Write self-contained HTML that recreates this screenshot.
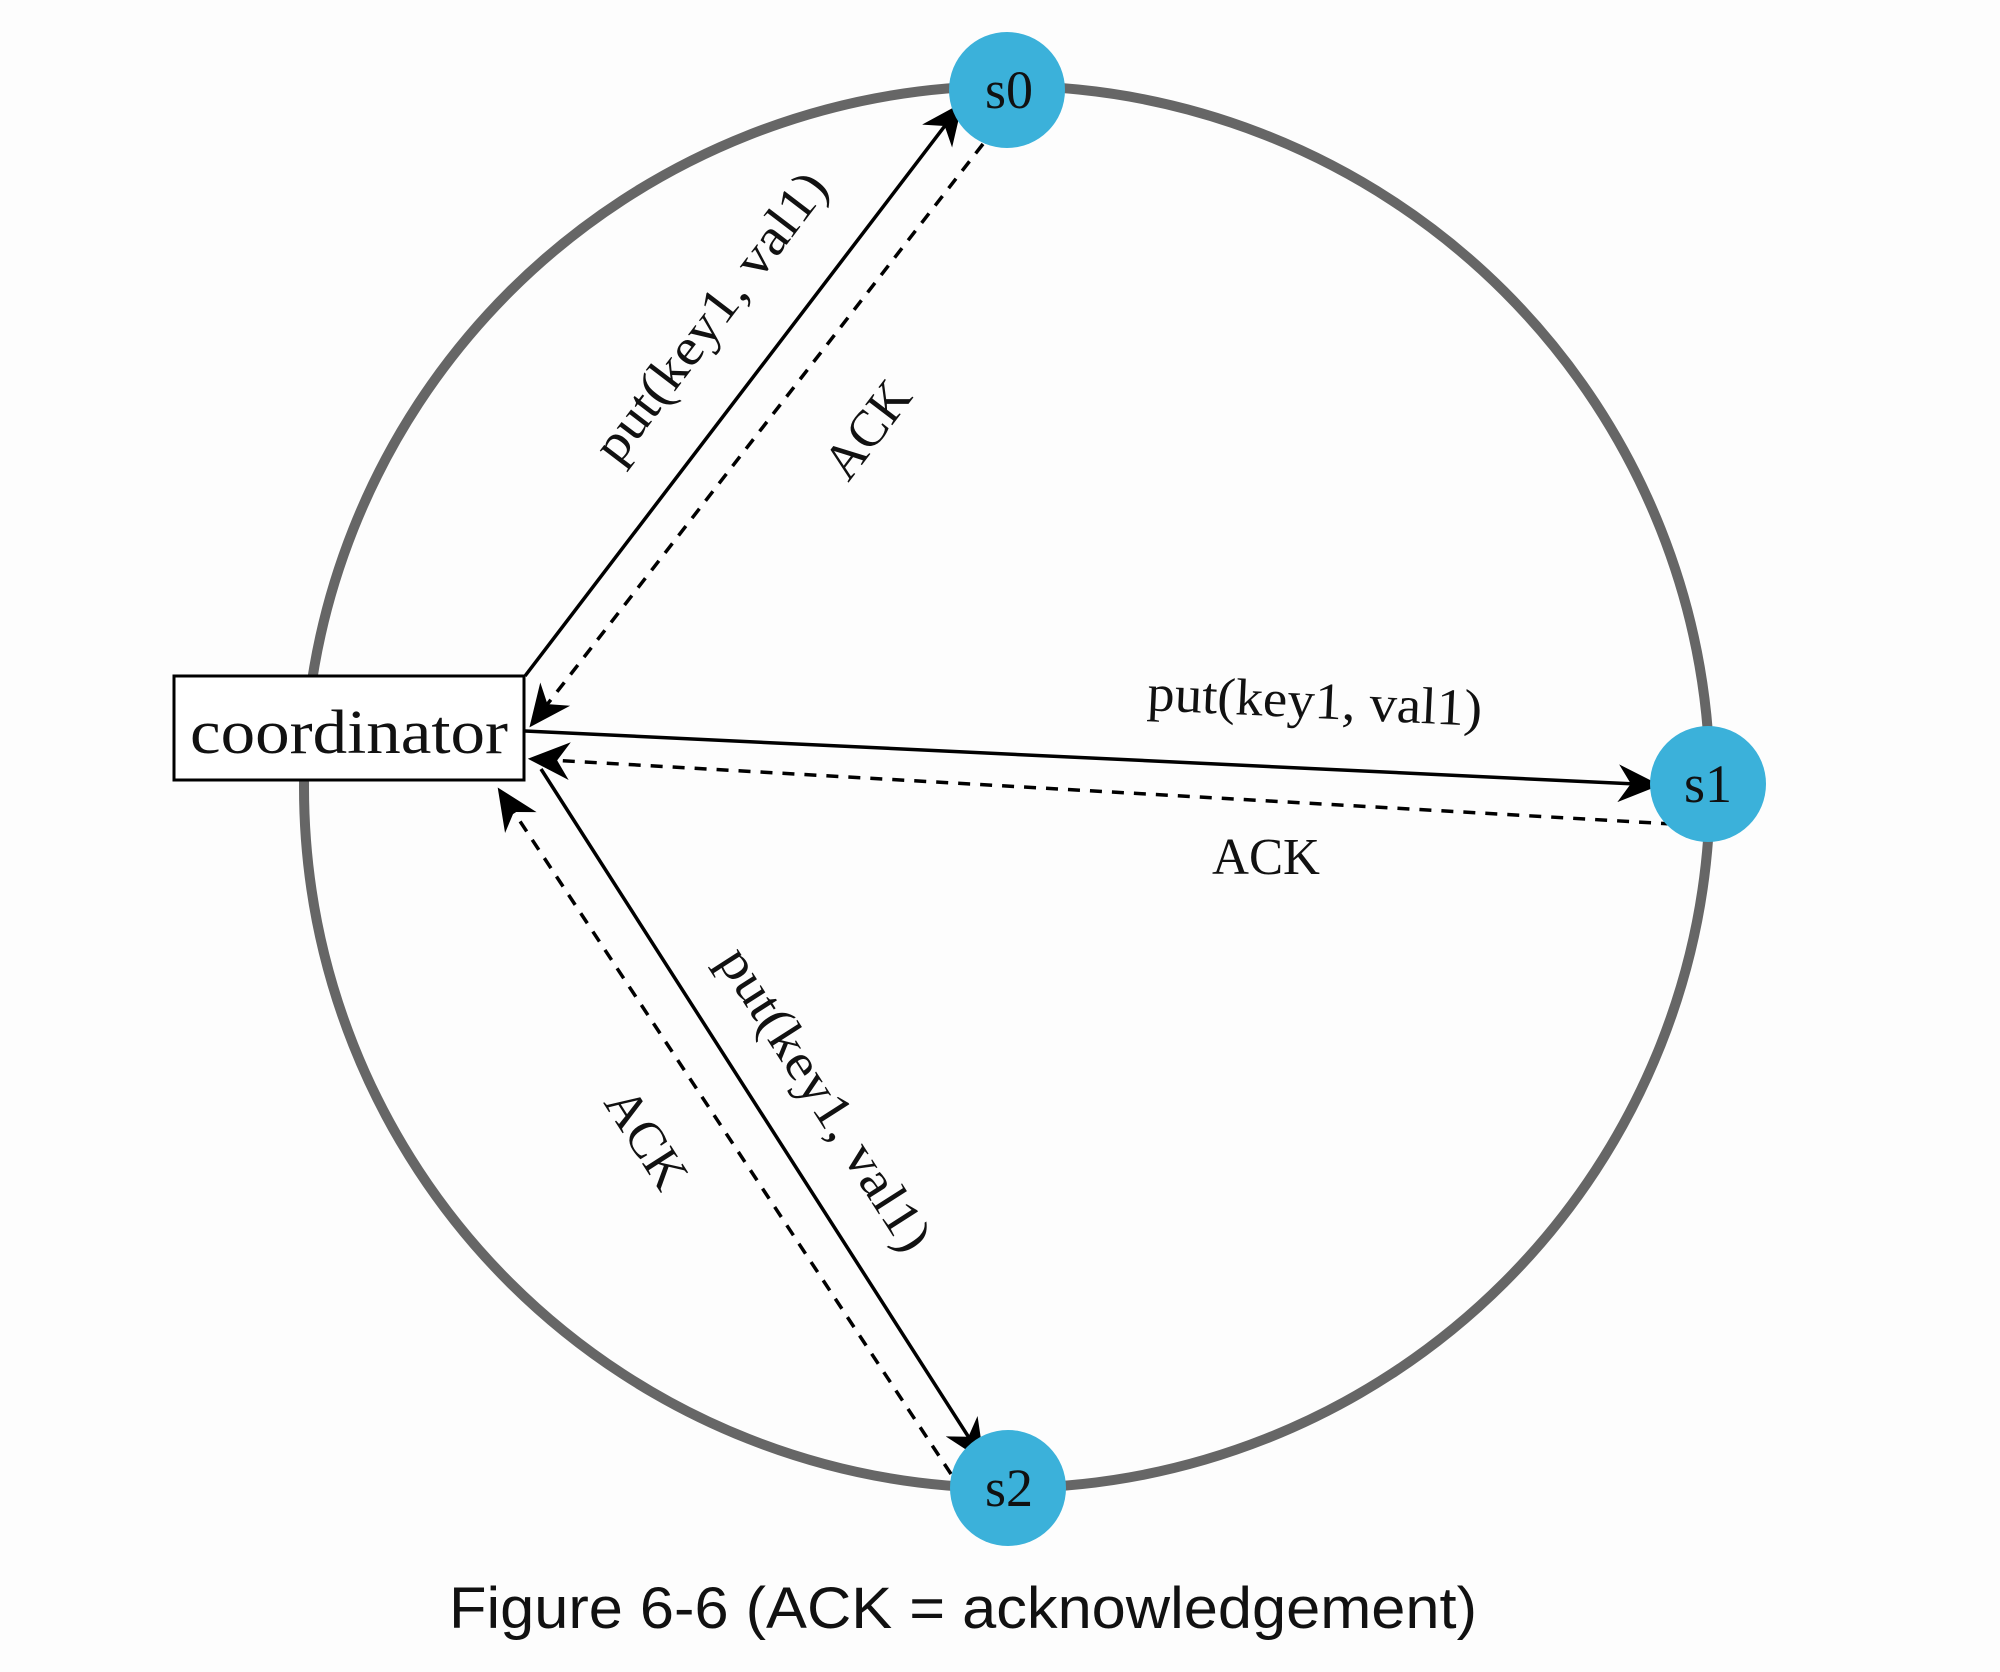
<!DOCTYPE html>
<html><head><meta charset="utf-8"><style>
html,body{margin:0;padding:0;background:#fdfdfd;}
svg{display:block;}
</style></head><body>
<svg width="2000" height="1672" viewBox="0 0 2000 1672" xmlns="http://www.w3.org/2000/svg">
<defs>
<marker id="ah2" viewBox="0 0 20 20" refX="18" refY="10" markerWidth="42" markerHeight="42" markerUnits="userSpaceOnUse" orient="auto">
<path d="M0,1 L20,10 L0,19 L6,10 Z" fill="#000"/>
</marker>
</defs>
<rect width="2000" height="1672" fill="#fdfdfd"/>
<g transform="translate(-4,0)">
<ellipse cx="1011" cy="787" rx="703" ry="701" fill="none" stroke="#666" stroke-width="10"/>
<g stroke="#000" stroke-width="3.5" fill="none">
<line x1="529" y1="676" x2="964" y2="106" marker-end="url(#ah2)"/>
<line x1="987" y1="144" x2="536" y2="724" stroke-dasharray="12,10" marker-end="url(#ah2)"/>
<line x1="529" y1="731" x2="1660" y2="785" marker-end="url(#ah2)"/>
<line x1="1677" y1="824" x2="536" y2="759" stroke-dasharray="12,10" marker-end="url(#ah2)"/>
<line x1="545" y1="769" x2="986" y2="1458" marker-end="url(#ah2)"/>
<line x1="955" y1="1474" x2="504" y2="791" stroke-dasharray="12,10" marker-end="url(#ah2)"/>
</g>
<circle cx="1011" cy="90" r="58" fill="#3bb1da"/>
<circle cx="1712" cy="784" r="58" fill="#3bb1da"/>
<circle cx="1012" cy="1488" r="58" fill="#3bb1da"/>
<g font-family="Liberation Serif, serif" font-size="54" fill="#111" text-anchor="middle">
<text x="1013" y="108">s0</text>
<text x="1712" y="802">s1</text>
<text x="1013" y="1506">s2</text>
</g>
<rect x="178" y="676" width="350" height="104" fill="#fff" stroke="#000" stroke-width="3"/>
<text x="353" y="753" font-family="Liberation Serif, serif" font-size="62" text-anchor="middle" textLength="318" lengthAdjust="spacingAndGlyphs" fill="#111">coordinator</text>
<g font-family="Liberation Serif, serif" font-size="52" fill="#111" text-anchor="middle">
<text transform="translate(728,327) rotate(-52.7)" textLength="350" lengthAdjust="spacingAndGlyphs">put(key1, val1)</text>
<text transform="translate(885,440) rotate(-52.7)" textLength="108" lengthAdjust="spacingAndGlyphs">ACK</text>
<text transform="translate(1318,718) rotate(2.7)" textLength="335" lengthAdjust="spacingAndGlyphs">put(key1, val1)</text>
<text x="1270" y="874" textLength="108" lengthAdjust="spacingAndGlyphs">ACK</text>
<text transform="translate(815,1108) rotate(57.4)" textLength="350" lengthAdjust="spacingAndGlyphs">put(key1, val1)</text>
<text transform="translate(636,1148) rotate(57.4)" textLength="108" lengthAdjust="spacingAndGlyphs">ACK</text>
</g>
<text x="967" y="1628" font-family="Liberation Sans, sans-serif" font-size="58" text-anchor="middle" textLength="1028" lengthAdjust="spacingAndGlyphs" fill="#111">Figure 6-6 (ACK = acknowledgement)</text>
</g>
</svg>
</body></html>
